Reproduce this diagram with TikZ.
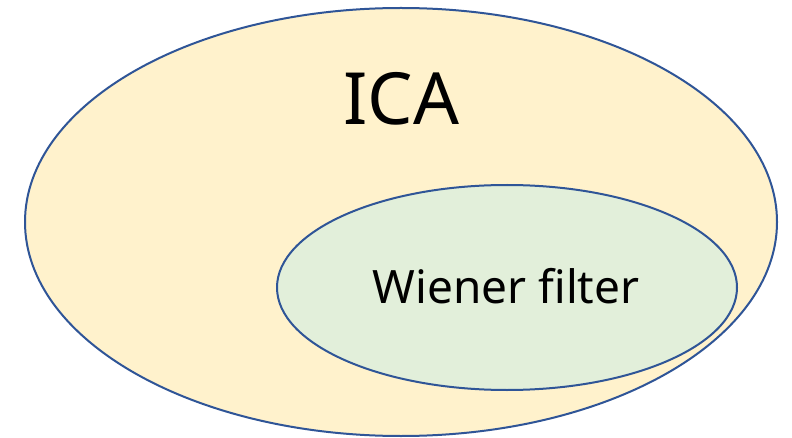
\documentclass[tikz,border=0pt]{standalone}
\usepackage{fontspec}
\setmainfont{Noto Sans}
\definecolor{edge}{HTML}{2F5597}
\definecolor{outerfill}{HTML}{FFF2CC}
\definecolor{innerfill}{HTML}{E2EFDA}
\begin{document}
\begin{tikzpicture}[x=1pt,y=-1pt,
  set/.style={draw=edge,line width=2pt}]
\useasboundingbox (0,0) rectangle (792,438);
\path[set,fill=outerfill] (401,222) ellipse [x radius=376, y radius=214];
\path[set,fill=innerfill] (507,287.5) ellipse [x radius=230, y radius=102.5];
\node[anchor=base, inner sep=0] (ica) at (401.5,125) {\fontsize{72}{80}\selectfont ICA};
\node[anchor=base, inner sep=0] (wf) at (506,303) {\fontsize{46}{52}\selectfont Wiener filter};
\end{tikzpicture}
\end{document}
